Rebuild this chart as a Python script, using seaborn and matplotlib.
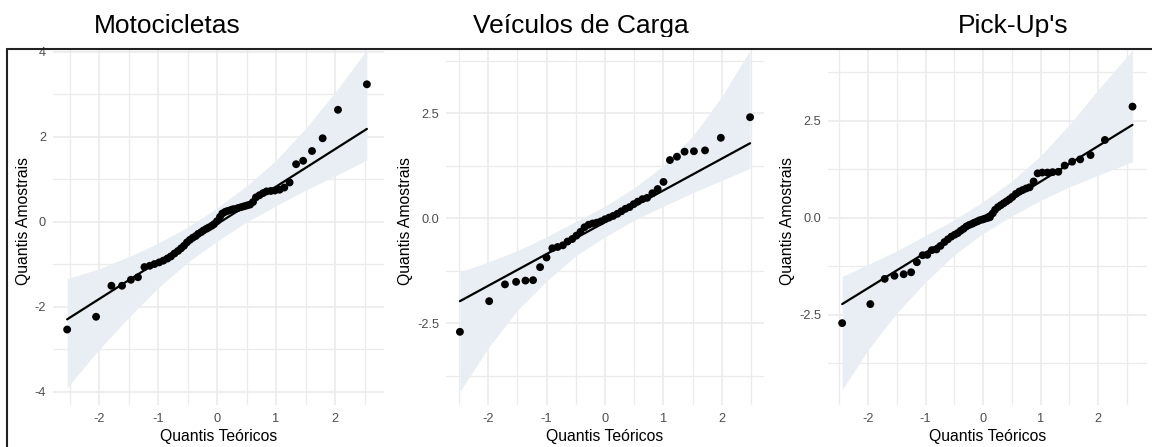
import matplotlib
matplotlib.use("Agg")
import matplotlib.pyplot as plt
import seaborn as sns
import pandas as pd
from matplotlib.ticker import MultipleLocator, FixedLocator, FuncFormatter
from matplotlib.lines import Line2D
from matplotlib.patches import Rectangle

# ---------------- data ----------------
titles = ["Motocicletas", "Veículos de Carga", "Pick-Up's"]
xlabel = "Quantis Teóricos"
ylabel = "Quantis Amostrais"

# Motocicletas
moto_x = [-2.54, -2.05, -1.79, -1.61, -1.46, -1.34, -1.23, -1.14, -1.06, -0.98,
          -0.91, -0.84, -0.78, -0.72, -0.66, -0.61, -0.56, -0.51, -0.46, -0.41,
          -0.36, -0.32, -0.27, -0.23, -0.18, -0.14, -0.09, -0.05, 0.00,
          0.05, 0.09, 0.14, 0.18, 0.23, 0.27, 0.32, 0.36, 0.41, 0.46,
          0.51, 0.56, 0.61, 0.66, 0.72, 0.78, 0.84, 0.91, 0.98, 1.06,
          1.14, 1.23, 1.34, 1.46, 1.61, 1.79, 2.05, 2.54]
moto_y = [-2.53, -2.23, -1.50, -1.50, -1.36, -1.30, -1.06, -1.03, -0.99, -0.95,
          -0.91, -0.86, -0.81, -0.74, -0.68, -0.62, -0.56, -0.48, -0.42, -0.37,
          -0.33, -0.28, -0.24, -0.20, -0.16, -0.13, -0.09, -0.05, 0.02,
          0.12, 0.20, 0.24, 0.26, 0.28, 0.30, 0.31, 0.33, 0.35, 0.37,
          0.39, 0.41, 0.47, 0.58, 0.63, 0.68, 0.72, 0.73, 0.74, 0.76,
          0.81, 0.93, 1.36, 1.44, 1.67, 1.97, 2.64, 3.24]
moto_line_x = [-2.54, 2.54]
moto_line_y = [-2.29, 2.19]
moto_band_x = [-2.54, -2.0, -1.5, -1.0, -0.5, 0.0, 0.5, 1.0, 1.5, 2.0, 2.54]
moto_band_lo = [-3.90, -3.00, -2.25, -1.55, -0.95, -0.45, 0.00, 0.38, 0.75, 1.08, 1.46]
moto_band_hi = [-1.33, -1.10, -0.82, -0.50, -0.12, 0.33, 0.85, 1.45, 2.20, 3.05, 4.05]

# Veículos de Carga
carga_x = [-2.48, -1.98, -1.71, -1.52, -1.36, -1.23, -1.11, -1.00, -0.90, -0.81,
           -0.72, -0.64, -0.56, -0.49, -0.42, -0.35, -0.28, -0.21, -0.14, -0.07,
           0.00,
           0.07, 0.14, 0.21, 0.28, 0.35, 0.42, 0.49, 0.56, 0.64, 0.72,
           0.81, 0.90, 1.00, 1.11, 1.23, 1.36, 1.52, 1.71, 1.98, 2.48]
carga_y = [-2.71, -1.98, -1.58, -1.52, -1.49, -1.48, -1.17, -0.94, -0.72, -0.69,
           -0.65, -0.56, -0.50, -0.42, -0.33, -0.22, -0.16, -0.13, -0.11, -0.08,
           -0.03,
           0.01, 0.05, 0.10, 0.16, 0.22, 0.26, 0.33, 0.39, 0.45, 0.48,
           0.59, 0.69, 0.86, 1.38, 1.46, 1.58, 1.59, 1.61, 1.91, 2.40]
carga_line_x = [-2.48, 2.48]
carga_line_y = [-1.98, 1.78]
carga_band_x = [-2.48, -2.0, -1.5, -1.0, -0.5, 0.0, 0.5, 1.0, 1.5, 2.0, 2.48]
carga_band_lo = [-4.13, -3.10, -2.20, -1.50, -0.90, -0.45, -0.05, 0.28, 0.60, 0.90, 1.18]
carga_band_hi = [-1.28, -1.05, -0.78, -0.45, -0.08, 0.28, 0.72, 1.25, 1.95, 2.90, 4.00]

# Pick-Up's
pick_x = [-2.45, -1.96, -1.71, -1.54, -1.38, -1.25, -1.15, -1.05, -0.97, -0.89,
          -0.81, -0.74, -0.67, -0.61, -0.55, -0.49, -0.44, -0.39, -0.34, -0.29,
          -0.24, -0.19, -0.15, -0.10, -0.06, -0.01, 0.03, 0.08, 0.12, 0.17,
          0.21, 0.26, 0.31, 0.36, 0.41, 0.46, 0.51, 0.57, 0.63, 0.69,
          0.75, 0.81, 0.88, 0.95, 1.03, 1.12, 1.21, 1.31, 1.42, 1.55,
          1.69, 1.87, 2.12, 2.60]
pick_y = [-2.71, -2.22, -1.57, -1.49, -1.45, -1.40, -1.14, -0.96, -0.95, -0.83,
          -0.81, -0.72, -0.62, -0.55, -0.48, -0.43, -0.39, -0.33, -0.28, -0.22,
          -0.18, -0.15, -0.12, -0.09, -0.06, -0.04, -0.02, 0.00, 0.02, 0.12,
          0.21, 0.28, 0.33, 0.38, 0.43, 0.48, 0.54, 0.62, 0.68, 0.72,
          0.76, 0.79, 0.94, 1.15, 1.17, 1.17, 1.18, 1.19, 1.35, 1.45,
          1.51, 1.62, 2.01, 2.87]
pick_line_x = [-2.45, 2.60]
pick_line_y = [-2.22, 2.40]
pick_band_x = [-2.45, -2.0, -1.5, -1.0, -0.5, 0.0, 0.5, 1.0, 1.5, 2.0, 2.60]
pick_band_lo = [-4.43, -3.40, -2.45, -1.65, -0.95, -0.40, 0.05, 0.45, 0.80, 1.10, 1.45]
pick_band_hi = [-1.51, -1.20, -0.85, -0.45, -0.05, 0.42, 0.95, 1.60, 2.40, 3.30, 4.33]

# ---------------- style ----------------
sns.set_theme(style="white")
plt.rcParams["font.family"] = ["Liberation Sans", "DejaVu Sans"]
plt.rcParams["axes.unicode_minus"] = False

W, H = 1152, 447
fig = plt.figure(figsize=(W / 100, H / 100), dpi=100)
fig.patch.set_facecolor("white")

GRID = "#EBEBEB"
BAND = "#E9EEF4"
TICKC = "#4D4D4D"

panels = [
    dict(x=moto_x, y=moto_y, lx=moto_line_x, ly=moto_line_y, bx=moto_band_x,
         blo=moto_band_lo, bhi=moto_band_hi, px=(53, 384), xlim=(-2.78, 2.83),
         ylim=(-4.306, 4.094), yt=[-4, -2, 0, 2, 4], ymin=1.0, fmt="{:g}",
         ylab_x=-0.088, title_x=167),
    dict(x=carga_x, y=carga_y, lx=carga_line_x, ly=carga_line_y, bx=carga_band_x,
         blo=carga_band_lo, bhi=carga_band_hi, px=(446, 764), xlim=(-2.718, 2.718),
         ylim=(-4.452, 4.048), yt=[-2.5, 0, 2.5], ymin=1.25, fmt="{:.1f}",
         ylab_x=-0.126, title_x=581),
    dict(x=pick_x, y=pick_y, lx=pick_line_x, ly=pick_line_y, bx=pick_band_x,
         blo=pick_band_lo, bhi=pick_band_hi, px=(828, 1147), xlim=(-2.696, 2.852),
         ylim=(-4.82, 4.38), yt=[-2.5, 0, 2.5], ymin=1.25, fmt="{:.1f}",
         ylab_x=-0.126, title_x=1013),
]

top_px, bot_px = 48, 405
for i, p in enumerate(panels):
    l, r = p["px"]
    ax = fig.add_axes([l / W, 1 - bot_px / H, (r - l) / W, (bot_px - top_px) / H])
    ax.set_facecolor("white")
    for s in ax.spines.values():
        s.set_visible(False)
    ax.set_xlim(*p["xlim"])
    ax.set_ylim(*p["ylim"])
    ax.xaxis.set_major_locator(FixedLocator([-2, -1, 0, 1, 2]))
    ax.xaxis.set_minor_locator(MultipleLocator(0.5))
    ax.yaxis.set_major_locator(FixedLocator(p["yt"]))
    ax.yaxis.set_minor_locator(MultipleLocator(p["ymin"]))
    fmt = p["fmt"]
    ax.yaxis.set_major_formatter(FuncFormatter(lambda v, pos, f=fmt: f.format(v)))
    ax.xaxis.set_major_formatter(FuncFormatter(lambda v, pos: "{:g}".format(v)))
    ax.grid(True, which="major", color=GRID, linewidth=1.2, zorder=0)
    ax.grid(True, which="minor", color=GRID, linewidth=0.9, zorder=0)
    ax.set_axisbelow(True)
    ax.tick_params(axis="both", which="both", length=0, colors=TICKC, labelsize=9.2)
    ax.tick_params(axis="x", pad=6)
    ax.tick_params(axis="y", pad=5)

    ax.fill_between(p["bx"], p["blo"], p["bhi"], color=BAND, linewidth=0, zorder=1)
    line_df = pd.DataFrame({"x": p["lx"], "y": p["ly"]})
    sns.lineplot(data=line_df, x="x", y="y", ax=ax, color="black", linewidth=1.6,
                 zorder=2, estimator=None, sort=False)
    pts = pd.DataFrame({"x": p["x"], "y": p["y"]})
    sns.scatterplot(data=pts, x="x", y="y", ax=ax, color="black", s=32,
                    edgecolor="none", zorder=3)

    ax.set_xlabel(xlabel, fontsize=11.3, color="black")
    ax.set_ylabel(ylabel, fontsize=11.3, color="black")
    ax.xaxis.set_label_coords(0.5, -(437 - bot_px) / (bot_px - top_px))
    ax.xaxis.label.set_va("center")
    ax.yaxis.set_label_coords(p["ylab_x"], (bot_px - 221) / (bot_px - top_px))
    ax.yaxis.label.set_va("center")

    fig.text(p["title_x"] / W, 1 - 26 / H, titles[i], fontsize=19,
             ha="center", va="center", color="black")

# white strip clipping the title descenders, then the frame lines
fig.add_artist(Rectangle((0, 1 - 47 / H), 1, 10 / H, transform=fig.transFigure,
                         facecolor="white", edgecolor="none", zorder=20))
fig.add_artist(Line2D([7 / W, 1], [1 - 48.5 / H, 1 - 48.5 / H],
                      transform=fig.transFigure, color="#222222", linewidth=1.5,
                      zorder=21))
fig.add_artist(Line2D([7 / W, 7 / W], [0, 1 - 48.5 / H],
                      transform=fig.transFigure, color="#222222", linewidth=1.5,
                      zorder=21))

fig.savefig("out.png", dpi=100, facecolor="white")
